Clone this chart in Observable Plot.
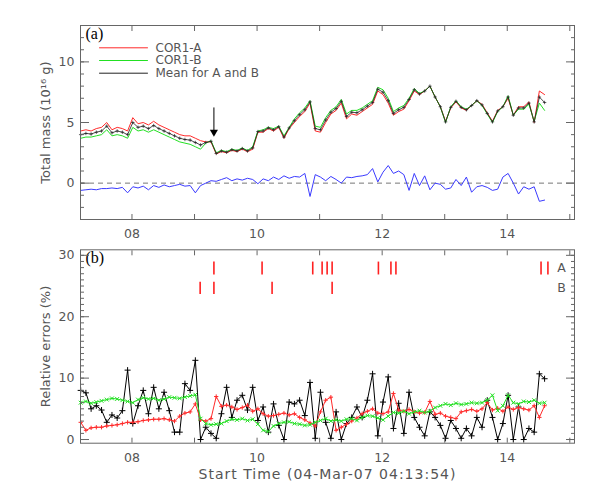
<!DOCTYPE html>
<html><head><meta charset="utf-8">
<script src="https://cdn.jsdelivr.net/npm/d3@7"></script>
<script src="https://cdn.jsdelivr.net/npm/@observablehq/plot@0.6"></script>
<style>
body{margin:0;background:#fff;}
#wrap{position:relative;width:598px;height:494px;background:#fff;}
#wrap svg{position:absolute;left:0;}
</style></head><body><div id="wrap"></div>
<script>
// sampling grid (hours, 5-minute cadence)
const t0 = 7.18, dt = 1 / 12;

// Panel (a): total mass (10^16 g)
const massA = [
4.3,4.4,4.3,4.5,4.6,5.0,4.4,4.6,4.5,4.3,
5.4,4.9,5.0,4.8,5.1,4.8,4.6,4.4,4.2,4.0,
3.9,3.9,3.7,3.5,3.4,3.4,2.4,2.6,2.5,2.7,
2.6,2.8,2.6,2.8,4.2,4.2,4.5,4.3,4.6,3.7,
4.5,5.0,5.5,5.9,6.6,4.3,4.2,5.0,5.7,6.0,
6.6,5.3,5.7,5.6,5.9,6.2,6.5,7.6,7.3,6.6,
5.6,5.9,6.1,6.8,7.6,7.3,7.6,8.0,7.1,6.3,
5.1,6.2,6.7,6.2,6.0,6.4,6.8,6.5,5.8,5.1,
6.0,6.3,7.0,5.6,6.3,6.3,6.7,5.0,7.6,7.3];
const massB = [
3.7,3.8,3.8,3.9,4.0,4.4,3.9,4.0,3.9,3.7,
4.6,4.3,4.4,4.2,4.4,4.2,4.0,3.8,3.6,3.4,
3.3,3.2,3.0,2.8,3.3,3.5,2.5,2.7,2.6,2.8,
2.7,2.9,2.7,3.0,4.3,4.4,4.6,4.5,4.7,3.9,
4.6,5.3,5.8,6.2,6.8,4.7,4.6,5.4,6.0,6.3,
6.9,5.7,6.0,6.0,6.2,6.5,6.8,7.9,7.7,7.0,
5.9,6.2,6.4,7.0,7.8,7.4,7.6,8.0,7.1,6.3,
5.0,6.3,6.8,6.3,6.1,6.4,6.8,6.4,5.7,5.0,
5.9,6.3,7.2,5.6,6.1,6.1,6.5,5.1,6.6,6.0];
const massDiff = [
-0.6,-0.55,-0.5,-0.55,-0.45,-0.45,-0.4,-0.45,-0.35,-0.8,
-0.3,-0.4,-0.25,-0.55,-0.2,-0.35,-0.15,-0.3,-0.2,-0.1,
-0.25,-0.2,-0.8,-0.2,0.0,0.2,0.15,0.3,0.45,0.2,
0.35,0.25,0.4,0.3,-0.05,0.35,0.2,0.5,0.3,0.6,
0.4,0.55,0.5,0.8,-1.1,0.7,0.5,0.2,0.55,0.3,
0.0,0.5,0.45,0.55,0.6,0.7,1.2,0.1,0.9,1.45,
0.8,1.0,0.7,-0.6,0.8,-0.2,0.6,-0.55,0.0,-0.1,
-0.5,-0.4,0.3,-0.2,0.5,-0.75,-0.3,-0.2,-0.35,-0.6,
-0.5,0.5,0.8,0.0,-0.9,-0.3,-0.5,-0.3,-1.5,-1.4];

// Panel (b): relative errors (%)
const errA = [
2.8,1.5,1.9,2.0,2.0,2.2,2.3,2.4,2.6,2.8,
2.8,2.9,3.1,3.2,3.3,3.3,3.4,3.2,3.0,3.8,
4.3,4.5,5.8,3.2,3.0,3.4,7.0,5.4,5.6,5.3,
4.9,5.2,5.6,4.6,5.0,4.2,3.8,3.9,4.1,4.3,
4.0,4.2,3.6,3.2,2.7,2.2,4.5,6.4,6.9,1.5,
2.0,2.5,3.0,3.5,4.2,4.6,5.0,4.3,4.2,4.5,
7.5,4.8,4.6,4.9,4.5,4.3,4.4,6.2,4.1,4.3,
3.8,3.6,3.4,4.5,4.7,4.9,4.6,5.0,6.0,4.8,
5.1,4.6,5.3,4.9,5.2,5.0,4.8,5.5,3.6,5.5];
const errB = [
6.0,6.2,5.9,6.1,6.3,6.5,6.7,6.6,6.4,6.2,
6.0,6.5,6.8,6.6,6.7,6.4,6.6,6.9,6.8,6.7,
6.9,7.1,7.3,3.4,2.6,2.4,2.5,2.6,3.0,3.3,
3.2,3.4,3.1,3.3,2.5,1.5,1.3,2.2,2.6,2.8,
2.9,2.6,2.5,2.3,2.4,2.8,3.1,3.4,3.0,3.2,
3.0,3.3,3.4,3.1,3.6,3.9,3.8,3.5,3.2,3.8,
4.4,4.3,4.6,4.2,4.5,4.7,4.4,4.6,5.2,5.5,
5.8,5.6,5.9,5.7,5.8,6.0,5.9,6.0,6.4,7.2,
4.7,5.5,7.2,6.0,5.8,6.2,6.1,6.4,5.9,6.0];
const errMean = [
8.0,7.6,5.0,5.5,4.8,2.8,4.0,3.5,4.7,11.3,
2.6,5.5,8.0,4.2,8.5,5.0,7.7,4.7,1.2,1.2,
9.1,8.0,12.9,0.0,2.0,1.0,0.2,4.2,8.5,3.6,
6.4,7.2,4.8,8.5,3.1,5.3,1.2,5.8,2.3,0.0,
6.1,5.8,6.4,3.9,9.3,0.2,7.7,2.8,0.2,4.5,
0.0,2.6,3.6,5.3,3.6,6.4,10.7,0.6,6.1,10.2,
1.8,5.9,1.0,7.7,3.6,2.0,0.6,4.5,3.6,2.3,
0.2,3.1,1.8,0.2,1.8,0.6,3.6,2.0,6.4,3.6,
0.0,2.6,7.2,0.0,5.3,0.0,1.8,1.2,10.7,9.9];

// event markers (hours)
const eventsA = [9.31,10.08,10.89,11.04,11.12,11.20,11.94,12.14,12.22,14.54,14.65];
const eventsB = [9.09,9.31,10.24,11.20];
const eventRows = [{name:"A", lo:26.8, hi:28.9, mid:27.9}, {name:"B", lo:23.6, hi:25.6, mid:24.6}];

// arrow annotation
const arrowMark = [{t:9.31, top:6.2, head:4.2}];

// axis ticks
const hourTicks = [8,9,10,11,12,13,14,15];
const hourLabels = [8,10,12,14];
const massMinor = d3.range(-3, 14);
const massMajor = [0,5,10];
const errMinor = d3.range(0, 31);
const errMajor = [0,10,20,30];

const legendItems = [
  {label:"COR1-A", color:"#ff2a2a"},
  {label:"COR1-B", color:"#22e022"},
  {label:"Mean for A and B", color:"#222"}
];

const xDomain = [7.177, 15.075];
const axisColor = "#666";
const textColor = "#555";
const sans = "DejaVu Sans, Liberation Sans, sans-serif";
const serif = "Liberation Serif, Times New Roman, serif";
const timeOf = i => t0 + i * dt;

const massRows = massA.map((a, i) => ({t: timeOf(i), a, b: massB[i], mean: (a + massB[i]) / 2, diff: massDiff[i]}));
const errRows = errA.map((a, i) => ({t: timeOf(i), a, b: errB[i], m: errMean[i]}));

const lineShape = {draw(ctx, l) { ctx.moveTo(0, 0); ctx.lineTo(0, -l); }};

function boxAxes(yMinor, yMajor, yTitle) {
  return [
    Plot.axisY(yMinor, {anchor:"left", tickSize:-4, fill:"none", stroke:axisColor, label:null}),
    Plot.axisY(yMinor, {anchor:"right", tickSize:-4, fill:"none", stroke:axisColor, label:null}),
    Plot.axisY(yMajor, {anchor:"left", tickSize:-9, fill:"none", stroke:axisColor, label:null}),
    Plot.axisY(yMajor, {anchor:"right", tickSize:-9, fill:"none", stroke:axisColor, label:null}),
    Plot.axisY(yMajor, {anchor:"left", tickSize:0, tickPadding:6, fill:textColor, label:null, fontSize:12.5}),
    Plot.axisX(hourTicks, {anchor:"bottom", tickSize:-5, fill:"none", stroke:axisColor, label:null}),
    Plot.axisX(hourTicks, {anchor:"top", tickSize:-5, fill:"none", stroke:axisColor, label:null}),
    Plot.axisX(hourLabels, {anchor:"bottom", tickSize:0, tickPadding:10, fill:textColor, label:null, fontSize:12.5, tickFormat:d3.format("02d")}),
    Plot.frame({stroke:axisColor}),
    Plot.text([yTitle], {text:d => d, frameAnchor:"left", rotate:-90, dx:-35, textAnchor:"middle", lineAnchor:"middle", fill:textColor, fontSize:13})
  ];
}

const topPlot = Plot.plot({
  width:598, height:245,
  marginLeft:80, marginRight:24, marginTop:25, marginBottom:26,
  x:{domain:xDomain}, y:{domain:[-3, 13]},
  style:{fontFamily:sans, fontSize:"12.5px", color:textColor, background:"white"},
  marks:[
    Plot.ruleY([0], {stroke:"#777", strokeDasharray:"5,4"}),
    Plot.line(massRows, {x:"t", y:"a", stroke:"#ff2a2a", strokeWidth:1}),
    Plot.line(massRows, {x:"t", y:"b", stroke:"#22e022", strokeWidth:1}),
    Plot.line(massRows, {x:"t", y:"mean", stroke:"#222", strokeWidth:0.8}),
    Plot.dot(massRows, {x:"t", y:"mean", symbol:"plus", r:1.2, stroke:"#222", strokeWidth:0.7}),
    Plot.line(massRows, {x:"t", y:"diff", stroke:"#3a3aff", strokeWidth:1}),
    Plot.ruleX(arrowMark, {x:"t", y1:"top", y2:"head", stroke:"#000", strokeWidth:1}),
    Plot.dot(arrowMark, {x:"t", y:"head", symbol:"triangle", rotate:180, r:3, fill:"#000", stroke:"none"}),
    legendItems.map((it, k) => [
      Plot.vector([it], {frameAnchor:"top-left", dx:19, dy:22.3 + k * 12.7, length:48, rotate:90, anchor:"start", shape:lineShape, stroke:it.color, strokeWidth:1}),
      Plot.text([it], {frameAnchor:"top-left", dx:75, dy:22.3 + k * 12.7, text:"label", textAnchor:"start", lineAnchor:"middle", fill:textColor, fontSize:12})
    ]),
    Plot.text(["(a)"], {text:d => d, frameAnchor:"top-left", dx:5, dy:8, textAnchor:"start", lineAnchor:"middle", fontFamily:serif, fontSize:16, fill:"#000"}),
    boxAxes(massMinor, massMajor, "Total mass (10¹⁶ g)")
  ]
});

const botPlot = Plot.plot({
  width:598, height:249,
  marginLeft:80, marginRight:24, marginTop:4.3, marginBottom:51.3,
  x:{domain:xDomain}, y:{domain:[-0.6, 30.9]},
  style:{fontFamily:sans, fontSize:"12.5px", color:textColor, background:"white"},
  marks:[
    Plot.line(errRows, {x:"t", y:"m", stroke:"#000", strokeWidth:1}),
    Plot.dot(errRows, {x:"t", y:"m", symbol:"plus", r:2.1, stroke:"#000", strokeWidth:1}),
    Plot.line(errRows, {x:"t", y:"a", stroke:"#ff2a2a", strokeWidth:1}),
    Plot.dot(errRows, {x:"t", y:"a", symbol:"plus", r:1.5, stroke:"#ff2a2a", strokeWidth:1}),
    Plot.line(errRows, {x:"t", y:"b", stroke:"#22e022", strokeWidth:1}),
    Plot.dot(errRows, {x:"t", y:"b", symbol:"times", r:1.9, stroke:"#22e022", strokeWidth:1}),
    Plot.ruleX(eventsA, {x:d => d, y1:eventRows[0].lo, y2:eventRows[0].hi, stroke:"#ff2020", strokeWidth:1.6}),
    Plot.ruleX(eventsB, {x:d => d, y1:eventRows[1].lo, y2:eventRows[1].hi, stroke:"#ff2020", strokeWidth:1.6}),
    Plot.text(eventRows, {y:"mid", text:"name", frameAnchor:"right", dx:-13, textAnchor:"middle", fill:textColor, fontSize:12.5}),
    Plot.text(["(b)"], {text:d => d, frameAnchor:"top-left", dx:5, dy:8, textAnchor:"start", lineAnchor:"middle", fontFamily:serif, fontSize:16, fill:"#000"}),
    Plot.text(["Start Time (04-Mar-07 04:13:54)"], {text:d => d, frameAnchor:"bottom", dy:31, lineAnchor:"middle", fill:textColor, fontSize:14}),
    boxAxes(errMinor, errMajor, "Relative errors (%)")
  ]
});

const wrap = document.getElementById("wrap");
topPlot.style.top = "0px";
botPlot.style.top = "245px";
wrap.appendChild(topPlot);
wrap.appendChild(botPlot);
d3.select(botPlot).selectAll("text").filter(function(){ return this.textContent.startsWith("Start"); }).style("letter-spacing", "1px");
</script>
</body></html>
